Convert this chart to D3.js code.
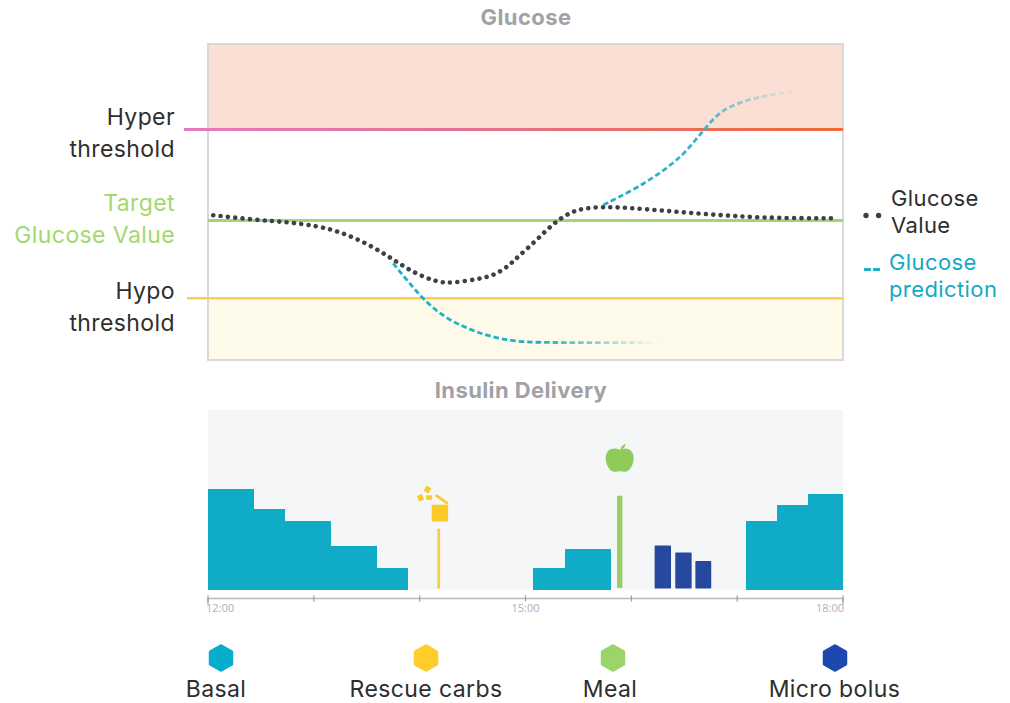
<!DOCTYPE html>
<html>
<head>
<meta charset="utf-8">
<script src="https://cdn.jsdelivr.net/npm/d3@7"></script>
<style>
    html, body { margin: 0; padding: 0; background: #fff; }
    svg { display: block; }
    text { font-family: "Inter", "Open Sans", sans-serif; }
</style>
</head>
<body>
<div id="chart"></div>
<script>
// Values. Time is in hours of the day, glucose in mg/dL
const glucoseTime = [12.05, 12.46, 12.744, 13.027, 13.247, 13.5, 13.72, 13.94, 14.16, 14.3, 14.57, 14.71, 14.84, 14.93, 15.106, 15.263, 15.42, 15.546, 15.735, 15.956, 16.3, 16.65, 17.0, 17.34, 17.95];
const glucoseValue = [123.9, 120.8, 119.5, 117.1, 113.2, 105.7, 96.6, 86.6, 80.6, 79.8, 82.7, 85.1, 91, 97, 107.8, 118.7, 125.8, 128.4, 129.4, 128.8, 126.9, 124.9, 123.2, 122.1, 121.9];

const predLowTime = [13.75, 13.878, 14.034, 14.223, 14.412, 14.633, 14.932, 15.263, 16.27];
const predLowValue = [92.7, 81.9, 69.4, 58.1, 51.6, 45.6, 41.5, 41.3, 41.3];

const predHighTime = [15.735, 16.019, 16.271, 16.491, 16.618, 16.712, 16.807, 16.932, 17.153, 17.342, 17.531];
const predHighValue = [130.6, 140.3, 151.1, 163, 173.8, 181.3, 188.9, 194.8, 199.8, 202.4, 203.9];

const hyperThreshold = 179.6;
const targetGlucose = 120.5;
const hypoThreshold = 70;

// Basal steps: start, end, rate
const basalStart = [12, 12.435, 12.73, 13.16, 13.6, 15.07, 15.37, 17.08, 17.38, 17.67];
const basalEnd = [12.435, 12.73, 13.16, 13.6, 13.89, 15.37, 15.805, 17.38, 17.67, 18];
const basalRate = [1.01, 0.81, 0.69, 0.44, 0.22, 0.22, 0.405, 0.69, 0.85, 0.96];

const boluses = ["a", "b", "c"];
const bolusStart = [16.22, 16.415, 16.605];
const bolusEnd = [16.375, 16.57, 16.755];
const bolusDose = [0.44, 0.37, 0.285];

const carbTime = 14.18;
const carbDose = 0.61;
const mealTime = 15.89;
const mealDose = 0.94;

const timeTicks = [12, 13, 14, 15, 16, 17, 18];
const timeLabels = { 12: "12:00", 15: "15:00", 18: "18:00" };

const legendNames = ["Basal", "Rescue carbs", "Meal", "Micro bolus"];
const legendColors = ["#07aecb", "#ffcd2b", "#9bd468", "#1c48b0"];

const width = 1010, height = 703;
const panel = { left: 208, right: 843, top: 44, bottom: 360 };
const lower = { top: 410, bottom: 589.5 };

const svg = d3.select("#chart").append("svg")
    .attr("width", width)
    .attr("height", height)
    .attr("viewBox", [0, 0, width, height]);

const x = d3.scaleLinear().domain([12, 18]).range([panel.left, panel.right]);
const y = d3.scaleLinear().domain([30, 235]).range([panel.bottom, panel.top]);
const dose = d3.scaleLinear().domain([0, 1.8]).range([lower.bottom, lower.top]);

const defs = svg.append("defs");

function gradient(id, x1, x2, stops) {
    const g = defs.append("linearGradient")
        .attr("id", id)
        .attr("gradientUnits", "userSpaceOnUse")
        .attr("x1", x1).attr("x2", x2).attr("y1", 0).attr("y2", 0);
    stops.forEach(s => g.append("stop")
        .attr("offset", s[0])
        .attr("stop-color", s[1])
        .attr("stop-opacity", s[2] === undefined ? 1 : s[2]));
}

gradient("hyperLine", 184, panel.right, [[0, "#e27cc0"], [0.45, "#e5708f"], [1, "#ef6a35"]]);
gradient("fadeLow", x(13.75), x(16.27), [[0, "#1fb0c4"], [0.55, "#1fb0c4"], [1, "#1fb0c4", 0]]);
gradient("fadeHigh", x(15.735), x(17.531), [[0, "#1fb0c4"], [0.55, "#3db6c6"], [1, "#8cc9cc", 0.1]]);

// ---- Glucose panel ----
svg.append("rect")
    .attr("x", panel.left).attr("y", panel.top)
    .attr("width", panel.right - panel.left)
    .attr("height", y(hyperThreshold) - panel.top)
    .attr("fill", "#fcdfd4");
svg.append("rect")
    .attr("x", panel.left).attr("y", y(hypoThreshold))
    .attr("width", panel.right - panel.left)
    .attr("height", panel.bottom - y(hypoThreshold))
    .attr("fill", "#fefaea");
svg.append("rect")
    .attr("x", panel.left).attr("y", panel.top)
    .attr("width", panel.right - panel.left)
    .attr("height", panel.bottom - panel.top)
    .attr("fill", "none")
    .attr("stroke", "#dbd9d5")
    .attr("stroke-width", 2);

svg.append("line")
    .attr("x1", 184).attr("x2", panel.right)
    .attr("y1", y(hyperThreshold)).attr("y2", y(hyperThreshold) + 0.01)
    .attr("stroke", "url(#hyperLine)").attr("stroke-width", 3);
svg.append("line")
    .attr("x1", panel.left).attr("x2", panel.right)
    .attr("y1", y(targetGlucose)).attr("y2", y(targetGlucose))
    .attr("stroke", "#a3d672").attr("stroke-width", 3);
svg.append("line")
    .attr("x1", 187).attr("x2", panel.right)
    .attr("y1", y(hypoThreshold)).attr("y2", y(hypoThreshold))
    .attr("stroke", "#f9d04c").attr("stroke-width", 2.5);

const line = d3.line().x(d => x(d[0])).y(d => y(d[1])).curve(d3.curveBasis);

svg.append("path")
    .attr("d", line(d3.zip(predLowTime, predLowValue)))
    .attr("fill", "none")
    .attr("stroke", "url(#fadeLow)")
    .attr("stroke-width", 2.8)
    .attr("stroke-dasharray", "5.5 3");
svg.append("path")
    .attr("d", line(d3.zip(predHighTime, predHighValue)))
    .attr("fill", "none")
    .attr("stroke", "url(#fadeHigh)")
    .attr("stroke-width", 2.8)
    .attr("stroke-dasharray", "5.5 3");
svg.append("path")
    .attr("d", line(d3.zip(glucoseTime, glucoseValue)))
    .attr("fill", "none")
    .attr("stroke", "#3c4048")
    .attr("stroke-width", 4.6)
    .attr("stroke-linecap", "round")
    .attr("stroke-dasharray", "0.01 7.35");

// ---- Insulin panel ----
svg.append("rect")
    .attr("x", panel.left).attr("y", lower.top)
    .attr("width", panel.right - panel.left)
    .attr("height", lower.bottom - lower.top)
    .attr("fill", "#f5f6f8");

svg.append("g").selectAll("rect")
    .data(basalRate)
    .join("rect")
    .attr("x", (d, i) => x(basalStart[i]))
    .attr("width", (d, i) => x(basalEnd[i]) - x(basalStart[i]))
    .attr("y", d => dose(d))
    .attr("height", d => dose(0) - dose(d))
    .attr("fill", "#10abc6")
    .attr("shape-rendering", "crispEdges");

svg.append("g").selectAll("rect")
    .data(boluses)
    .join("rect")
    .attr("x", (d, i) => x(bolusStart[i]))
    .attr("width", (d, i) => x(bolusEnd[i]) - x(bolusStart[i]))
    .attr("y", (d, i) => dose(bolusDose[i]))
    .attr("height", (d, i) => dose(0) - 1 - dose(bolusDose[i]))
    .attr("rx", 0.8)
    .attr("fill", "#26489f");

svg.append("rect")
    .attr("x", x(carbTime) - 1.4).attr("width", 2.8)
    .attr("y", dose(carbDose))
    .attr("height", dose(0) - 1 - dose(carbDose))
    .attr("fill", "#f8cc45");
svg.append("rect")
    .attr("x", x(mealTime) - 2.7).attr("width", 5.4)
    .attr("y", dose(mealDose))
    .attr("height", dose(0) - 1.5 - dose(mealDose))
    .attr("fill", "#97cc66");

// Carb icon, sits above the carb stem
const carbIcon = svg.append("g")
    .attr("transform", `translate(${x(carbTime)},${dose(carbDose)})`)
    .attr("fill", "#fcc928");
carbIcon.append("rect").attr("x", -7).attr("y", -24).attr("width", 16.4).attr("height", 16.8).attr("rx", 1);
carbIcon.append("path")
    .attr("d", "M-3 -33.5 L9.2 -25")
    .attr("fill", "none").attr("stroke", "#fcc928").attr("stroke-width", 2.6);
carbIcon.append("rect").attr("x", -21).attr("y", -34).attr("width", 5.6).attr("height", 6).attr("rx", 1)
    .attr("transform", "rotate(-20 -18 -31)");
carbIcon.append("rect").attr("x", -12.5).attr("y", -33.5).attr("width", 6).attr("height", 4.6).attr("rx", 0.6);
carbIcon.append("rect").attr("x", -14).attr("y", -42).attr("width", 5.6).attr("height", 6).attr("rx", 1)
    .attr("transform", "rotate(25 -11 -39)");

// Apple icon, sits above the meal stem
const appleIcon = svg.append("g")
    .attr("transform", `translate(${x(mealTime)},${dose(mealDose)})`)
    .attr("fill", "#8fcb58");
appleIcon.append("path")
    .attr("d", "M0 -46 C6 -49 14 -47 14 -37.5 C14 -30 9 -24 5.5 -24 C3 -24 1.5 -24.6 0 -24.6 C-1.5 -24.6 -3 -24 -5.5 -24 C-9 -24 -14 -30 -14 -37.5 C-14 -47 -6 -49 0 -46 Z");
appleIcon.append("path")
    .attr("d", "M0.5 -46 Q1 -50 6 -52 Q5.5 -47.5 0.5 -46 Z");

// Time axis
const axis = d3.axisBottom(x)
    .tickValues(timeTicks)
    .tickFormat(d => timeLabels[d] || "")
    .tickSizeOuter(0)
    .tickSize(6)
    .offset(0);
const axisG = svg.append("g")
    .attr("transform", "translate(0,598.5)")
    .call(axis);
axisG.select(".domain").attr("stroke", "#b9b9b9").attr("stroke-width", 1.6);
axisG.selectAll(".tick line").attr("stroke", "#9a9a9a").attr("stroke-width", 1.2).attr("y1", -3).attr("y2", 3);
axisG.selectAll(".tick text")
    .attr("y", 6)
    .attr("font-size", 11)
    .attr("fill", "#b0b0b0")
    .style("font-family", "'Open Sans', sans-serif")
    .attr("text-anchor", d => d === 12 ? "start" : d === 18 ? "end" : "middle")
    .attr("dx", d => d === 12 ? -2 : d === 18 ? 1 : 0);

// ---- Titles ----
function title(txt, cx, base) {
    svg.append("text").text(txt)
        .attr("x", cx).attr("y", base)
        .attr("text-anchor", "middle")
        .attr("font-size", 22)
        .attr("font-weight", 700)
        .attr("letter-spacing", 0.4)
        .attr("fill", "#a0a2a6");
}
title("Glucose", 526, 25);
title("Insulin Delivery", 521, 398);

// ---- Threshold labels ----
function label(txt, px, base, color, anchor, spacing) {
    svg.append("text").text(txt)
        .attr("x", px).attr("y", base)
        .attr("text-anchor", anchor || "end")
        .attr("font-size", anchor ? 22 : 23)
        .attr("letter-spacing", spacing)
        .attr("fill", color);
}
label("Hyper", 175, 125, "#2e2e2e", null, 0.4);
label("threshold", 175, 157, "#2e2e2e", null, 0.4);
label("Target", 175, 211, "#a4d86e", null, 0.4);
label("Glucose Value", 175, 243, "#a4d86e", null, 0.4);
label("Hypo", 175, 299, "#2e2e2e", null, 0.4);
label("threshold", 175, 331, "#2e2e2e", null, 0.4);

// ---- Series legend ----
svg.append("line")
    .attr("x1", 866).attr("x2", 880).attr("y1", 215.5).attr("y2", 215.5)
    .attr("stroke", "#3c4048").attr("stroke-width", 5.4)
    .attr("stroke-linecap", "round").attr("stroke-dasharray", "0.01 12.6");
label("Glucose", 891, 206, "#2e2e2e", "start", 0.4);
label("Value", 891, 233, "#2e2e2e", "start", 0.4);
svg.append("line")
    .attr("x1", 864).attr("x2", 880).attr("y1", 269.5).attr("y2", 269.5)
    .attr("stroke", "#1fb0c4").attr("stroke-width", 3)
    .attr("stroke-dasharray", "7 2");
label("Glucose", 889, 270, "#14a9c6", "start", 0.4);
label("prediction", 889, 297, "#14a9c6", "start", 0.4);

// ---- Category legend ----
const legendX = [221, 426, 613, 835];
const legendLabelX = [216, 426, 610, 834.5];
const hexagon = "M0 -12 L10.5 -6 L10.5 6 L0 12 L-10.5 6 L-10.5 -6 Z";
const legend = svg.append("g").selectAll("g")
    .data(legendNames)
    .join("g");
legend.append("path")
    .attr("d", hexagon)
    .attr("transform", (d, i) => `translate(${legendX[i]},658)`)
    .attr("fill", (d, i) => legendColors[i])
    .attr("stroke", (d, i) => legendColors[i])
    .attr("stroke-width", 3.5)
    .attr("stroke-linejoin", "round");
legend.append("text")
    .text(d => d)
    .attr("x", (d, i) => legendLabelX[i])
    .attr("y", 697.3)
    .attr("text-anchor", "middle")
    .attr("font-size", 23)
    .attr("letter-spacing", 0.4)
    .attr("fill", "#2e2e2e");
</script>
</body>
</html>
